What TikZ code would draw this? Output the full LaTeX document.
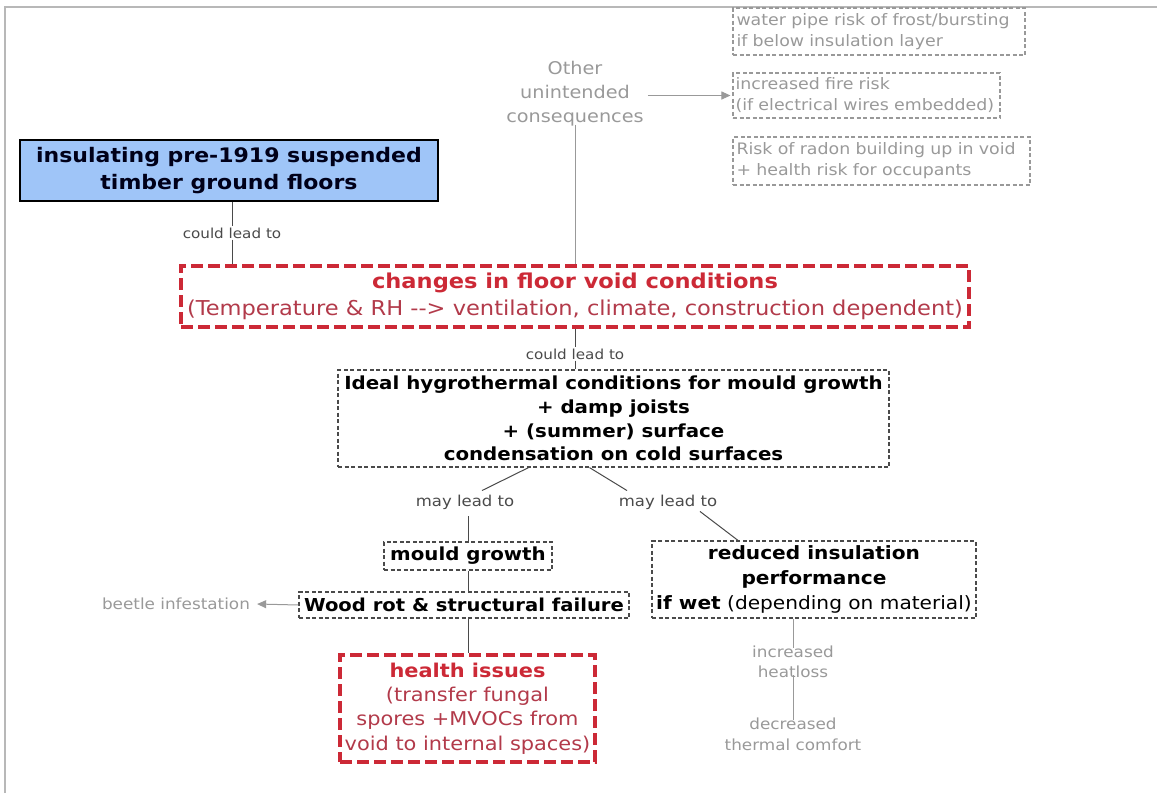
\documentclass[tikz,border=0pt]{standalone}
\usepackage{fontspec}
\setmainfont{DejaVu Sans}[FakeStretch=1.1]
\usetikzlibrary{arrows.meta,calc}
\definecolor{tblue}{HTML}{9FC5F8}
\definecolor{tred}{HTML}{CC2936}
\definecolor{tred2}{HTML}{B23A4A}
\definecolor{lgray}{HTML}{999999}
\definecolor{dgray}{HTML}{4A4A4A}
\newcommand{\fs}[2]{\fontsize{#1}{#2}\selectfont}
\tikzset{
  dbox/.style={draw=dgray,dashed,dash pattern=on 4pt off 2.5pt,line width=1.2pt,align=center,inner sep=0pt},
  gbox/.style={draw=lgray,dashed,dash pattern=on 4pt off 2.5pt,line width=1.1pt,align=left,inner sep=0pt,text=lgray,font=\fs{15.8}{21}},
  rbox/.style={draw=tred,dashed,dash pattern=on 12pt off 5pt,line width=3.2pt,align=center,inner sep=0pt},
  lbl/.style={text=dgray,inner sep=1pt},
  glbl/.style={text=lgray,align=center,inner sep=1pt},
  conn/.style={draw=dgray,line width=1pt},
  gconn/.style={draw=lgray,line width=1pt},
  garrow/.style={draw=lgray,line width=1pt,-{Triangle[length=9pt,width=8pt]}}
}
\begin{document}
\begin{tikzpicture}[x=1pt,y=-1pt]
\useasboundingbox (0,0) rectangle (1157,793);
\draw[lgray!70,line width=2pt] (5,793) -- (5,7) -- (1157,7);
% title
\node[draw=black,line width=2.6pt,fill=tblue,minimum width=418,minimum height=61,inner sep=0pt,align=center,text=black!90!blue,font=\bfseries\fs{20}{27}] (title) at (229,170.5) {insulating pre-1919 suspended\\timber ground floors};
% red box
\node[rbox,minimum width=788,minimum height=61,font=\fs{20.5}{27}] (red) at (575,296.5) {\textcolor{tred}{\bfseries changes in floor void conditions}\\\textcolor{tred2}{(Temperature \& RH -{}-{}> ventilation, climate, construction dependent)}};
\node[lbl,font=\fs{13.8}{15}] (cl1) at (232,233) {could lead to};
\draw[conn] (cl1.north |- title.south) -- (cl1.north);
\draw[conn] (cl1.south) -- (cl1.south |- red.north);
% other
\node[glbl,font=\fs{17.5}{24}] (other) at (575,94) {Other\\unintended\\consequences};
\node[gbox,minimum width=292,minimum height=47,text width=285] (water) at (879,31.5) {water pipe risk of frost/bursting\\if below insulation layer};
\node[gbox,minimum width=267,minimum height=45,text width=262] (fire) at (866.5,95.5) {increased fire risk\\(if electrical wires embedded)};
\node[gbox,minimum width=297,minimum height=48,text width=290] (radon) at (881.5,161) {Risk of radon building up in void\\+ health risk for occupants};
\draw[garrow] ([xshift=3]other.east |- fire.west) -- ([xshift=-2]fire.west);
\draw[gconn] ([yshift=3]other.south) -- (other.south |- red.north);
% ideal
\node[lbl,font=\fs{13.8}{15}] (cl2) at (575,354) {could lead to};
\draw[conn] (cl2.north |- red.south) -- (cl2.north);
\node[dbox,minimum width=551,minimum height=97,font=\bfseries\fs{18}{23.7}] (ideal) at (613.5,418.5) {Ideal hygrothermal conditions for mould growth\\+ damp joists\\+ (summer) surface\\condensation on cold surfaces};
\draw[conn] (cl2.south) -- (cl2.south |- ideal.north);
% may lead to
\node[lbl,font=\fs{15}{16}] (ml1) at (465,502) {may lead to};
\node[lbl,font=\fs{15}{16}] (ml2) at (668,502) {may lead to};
\draw[conn] ($(ideal.south)+(-85,0)$) -- ($(ml1.north)+(17,-3)$);
\draw[conn] ($(ideal.south)+(-24,0)$) -- ($(ml2.north)+(-41,-3)$);
% mould, wood, health
\node[dbox,minimum width=168,minimum height=28,font=\bfseries\fs{18}{20}] (mould) at (468,556) {mould growth};
\node[dbox,minimum width=330,minimum height=26,font=\bfseries\fs{17.8}{20}] (wood) at (464,605) {Wood rot \& structural failure};
\node[rbox,minimum width=255,minimum height=107,text=tred2,font=\fs{19}{24.3}] (health) at (467.5,708.5) {\textcolor{tred}{\bfseries health issues}\\(transfer fungal\\spores +MVOCs from\\void to internal spaces)};
\draw[conn] (ml1.south -| mould.north) ++(0,6) -- (mould.north);
\draw[conn] (mould.south) -- (mould.south |- wood.north);
\draw[conn] (mould.south |- wood.south) -- (mould.south |- health.north);
\node[glbl,font=\fs{15.3}{16}] (beetle) at (176,604) {beetle infestation};
\draw[garrow] (wood.west) -- ([xshift=6]beetle.east);
% reduced
\node[dbox,minimum width=324,minimum height=77,font=\fs{18.3}{25}] (reduced) at (814,579.5) {\bfseries reduced insulation\\\bfseries performance\\\textbf{if wet} (depending on material)};
\draw[conn] ($(ml2.south)+(32,1)$) -- ($(reduced.north)+(-76,0)$);
\node[glbl,font=\fs{15.3}{20}] (heat) at (793,662) {increased\\heatloss};
\node[glbl,font=\fs{15.3}{21}] (comfort) at (793,734) {decreased\\thermal comfort};
\draw[gconn] (heat.north |- reduced.south) -- ([yshift=-3]heat.north);
\draw[gconn] ([yshift=4]heat.south) -- ([yshift=-4]comfort.north);
\end{tikzpicture}
\end{document}
